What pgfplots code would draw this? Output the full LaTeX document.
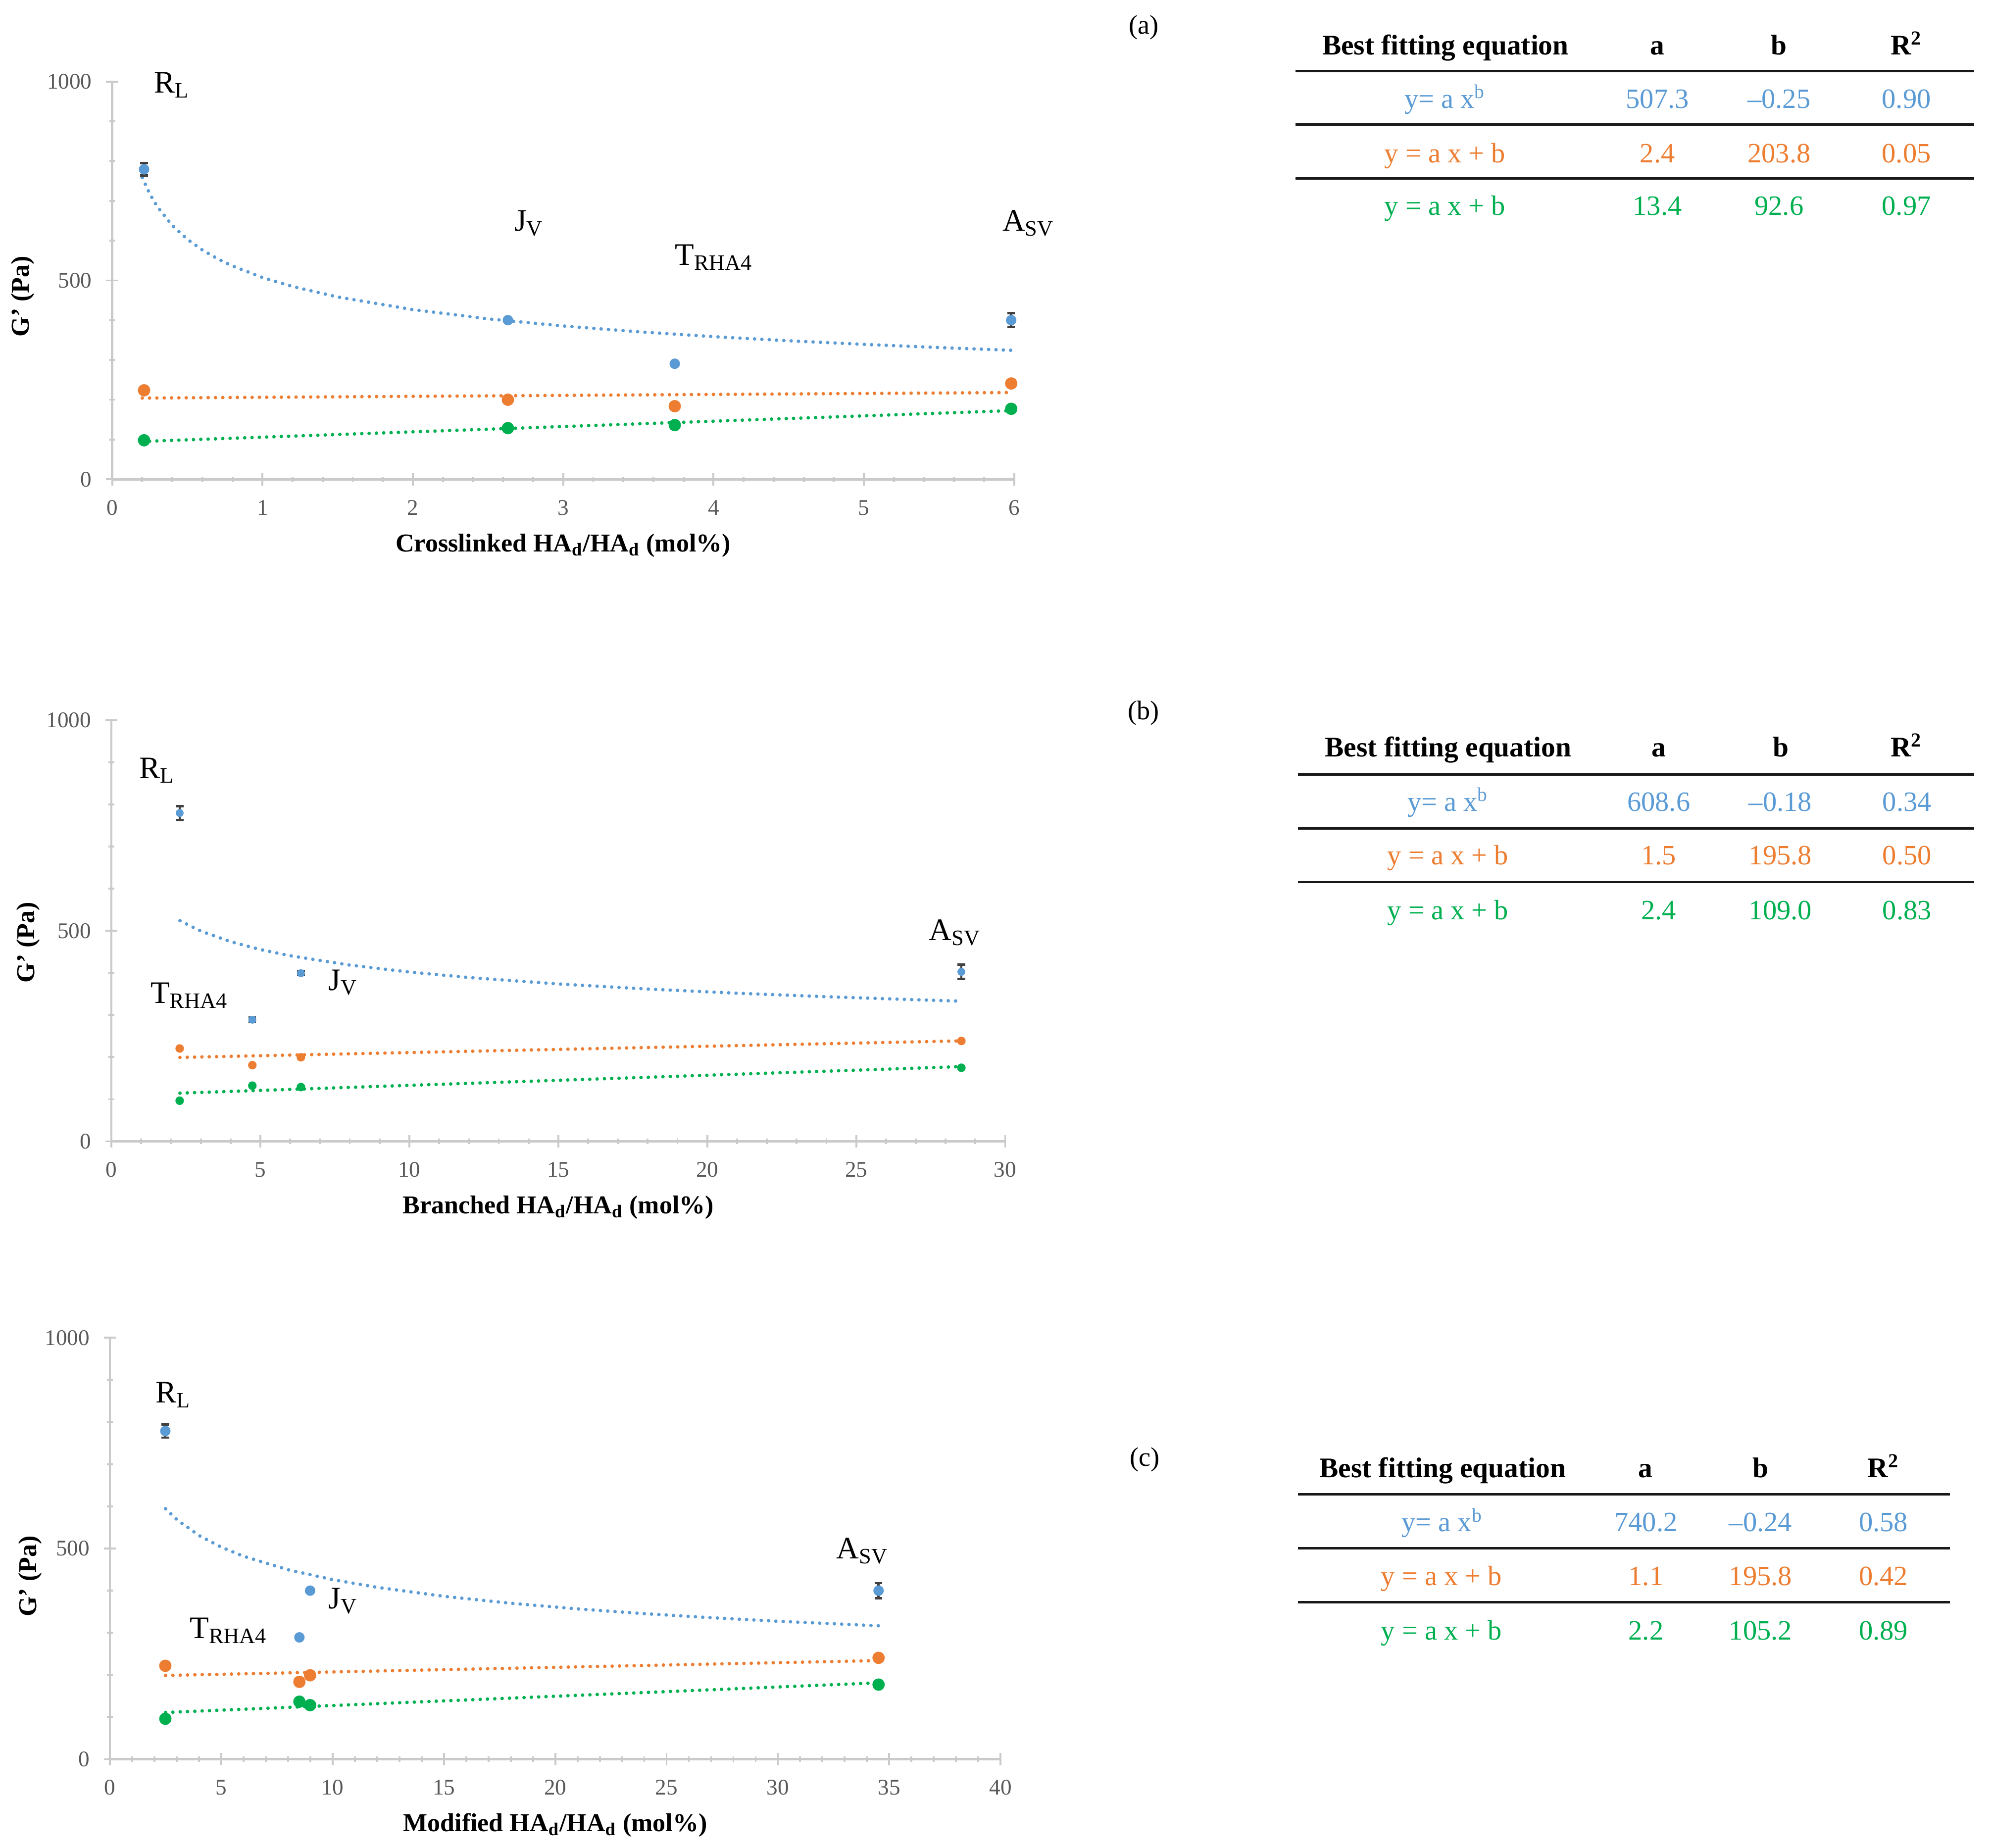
\documentclass[border=0pt]{standalone}
\usepackage{fontspec}
\setmainfont{Liberation Serif}
\usepackage{pgfplots}
\pgfplotsset{compat=1.18}
\definecolor{cblue}{HTML}{5B9BD5}
\definecolor{corange}{HTML}{ED7D31}
\definecolor{cgreen}{HTML}{00B050}
\definecolor{tickgray}{HTML}{595959}
\definecolor{axgray}{HTML}{CACACA}
\pgfplotsset{
  gstyle/.style={
    scale only axis, anchor=south west, clip=false,
    axis lines=left,
    axis line style={-, draw=axgray, line width=0.35mm},
    ymin=0, ymax=1000, ytick={0,500,1000}, minor y tick num=4,
    tick align=center, major tick length=1.9mm, minor tick length=0.9mm,
    tick style={draw=axgray, line width=0.3mm},
    /pgf/number format/assume math mode=true,
    /pgf/number format/1000 sep={},
    ticklabel style={font=\fontsize{10pt}{12pt}\selectfont, text=tickgray},
    xticklabel style={yshift=-1.1mm},
    yticklabel style={xshift=-1mm},
    label style={font=\bfseries\fontsize{11.5pt}{14pt}\selectfont},
    xlabel style={at={(axis description cs:0.5,0)}, anchor=base, yshift=-11.35mm},
    ylabel={G' (Pa)},
  },
  tr/.style={no marks, line width=0.55mm, line cap=round, dash pattern=on 0pt off 1.15mm},
  bm/.style={only marks, mark=*, mark size=#1, color=cblue,
    error bars/.cd, y dir=both, y explicit,
    error bar style={line width=0.35mm, color=black!75},
    error mark options={rotate=90, mark size=0.6mm, line width=0.35mm, color=black!75}},
  om/.style={only marks, mark=*, mark size=#1, color=corange},
  gm/.style={only marks, mark=*, mark size=#1, color=cgreen},
}
\begin{document}
\begin{tikzpicture}
\useasboundingbox (0,0) rectangle (313mm,-290.2mm);
% ---------------- (a)
\begin{axis}[gstyle, at={(17.62mm,-75.28mm)}, width=141.66mm, height=62.48mm,
  xmin=0, xmax=6, xtick={0,...,6}, minor x tick num=4,
  xlabel={Crosslinked HA\textsubscript{d}/HA\textsubscript{d} (mol\%)},
  ylabel style={at={(axis description cs:-0.0991,0.4597)}, anchor=center}]
\addplot[tr, cblue] coordinates {(0.2,758.6) (0.25,717.4) (0.3,685.5) (0.4,637.9) (0.5,603.3) (0.6,576.4) (0.7,554.6) (0.8,536.4) (1,507.3) (1.2,484.7) (1.5,458.4) (2,426.6) (2.5,403.4) (3,385.5) (3.5,370.9) (4,358.7) (4.5,348.3) (5,339.3) (5.5,331.3) (5.98,324.4)};
\addplot[tr, corange] coordinates {(0.2,204.3) (5.98,218.2)};
\addplot[tr, cgreen] coordinates {(0.2,95.3) (5.98,172.7)};
\addplot[om=0.9mm] coordinates {(0.212,223.8) (2.632,200.1) (3.742,183.9) (5.98,241.0)};
\addplot[gm=0.9mm] coordinates {(0.212,98.2) (2.632,128.7) (3.742,136.3) (5.98,177.3)};
\addplot[bm=0.75mm] coordinates {(0.212,779.2) +- (0,15.4) (2.632,400.1) +- (0,5) (3.742,290.6) +- (0,5) (5.98,400.1) +- (0,17.6)};
\end{axis}
% ---------------- (b)
\begin{axis}[gstyle, at={(17.5mm,-179.24mm)}, width=140.36mm, height=66.12mm,
  xmin=0, xmax=30, xtick={0,5,...,30}, minor x tick num=4,
  xlabel={Branched HA\textsubscript{d}/HA\textsubscript{d} (mol\%)},
  ylabel style={at={(axis description cs:-0.0933,0.4725)}, anchor=center}]
\addplot[tr, cblue] coordinates {(2.3,523.9) (3,499.4) (4,474.2) (5,455.5) (6,440.8) (8,418.6) (10,402.1) (12,389.1) (15,373.8) (18,361.7) (21,351.8) (24,343.5) (27,336.3) (28.5,333.0)};
\addplot[tr, corange] coordinates {(2.3,199.3) (28.5,238.6)};
\addplot[tr, cgreen] coordinates {(2.3,114.5) (28.5,177.4)};
\addplot[om=0.6mm] coordinates {(2.29,220.5) (4.73,180.9) (6.36,199.6) (28.53,238.4)};
\addplot[gm=0.6mm] coordinates {(2.29,96.5) (4.73,132.2) (6.36,128.9) (28.53,174.8)};
\addplot[bm=0.55mm] coordinates {(2.29,779.8) +- (0,16.5) (4.73,288.9) +- (0,5) (6.36,399.3) +- (0,5) (28.53,402.6) +- (0,17.2)};
\end{axis}
% ---------------- (c)
\begin{axis}[gstyle, at={(17.26mm,-276.26mm)}, width=139.88mm, height=66.18mm,
  xmin=0, xmax=40, xtick={0,5,...,40}, minor x tick num=4,
  xlabel={Modified HA\textsubscript{d}/HA\textsubscript{d} (mol\%)},
  ylabel style={at={(axis description cs:-0.0894,0.434)}, anchor=center}]
\addplot[tr, cblue] coordinates {(2.5,594.1) (3,568.6) (4,530.7) (5,503.0) (6,481.5) (8,449.4) (10,425.9) (12,407.7) (15,386.4) (18,369.9) (21,356.5) (24,345.2) (27,335.6) (30,327.2) (34.6,316.2)};
\addplot[tr, corange] coordinates {(2.5,198.6) (34.6,233.9)};
\addplot[tr, cgreen] coordinates {(2.5,110.7) (34.6,181.3)};
\addplot[om=0.9mm] coordinates {(2.49,221.5) (8.51,183.4) (8.99,198.9) (34.52,240.3)};
\addplot[gm=0.9mm] coordinates {(2.49,95.8) (8.51,136.3) (8.99,128.1) (34.52,176.8)};
\addplot[bm=0.75mm] coordinates {(2.49,778.5) +- (0,15.4) (8.51,288.9) +- (0,5) (8.99,399.8) +- (0,5) (34.52,399.8) +- (0,17.8)};
\end{axis}
% ---------------- text and tables
\begin{scope}[x=0.2mm, y=-0.2mm,
  lbl/.style={font=\fontsize{14pt}{16pt}\selectfont, inner sep=0, anchor=base west},
  pl/.style={font=\fontsize{12pt}{14pt}\selectfont, inner sep=0, anchor=center},
  hdr/.style={font=\bfseries\fontsize{12.7pt}{15pt}\selectfont, inner sep=0, anchor=base},
  cell/.style={font=\fontsize{12.5pt}{15pt}\selectfont, inner sep=0, anchor=base},
  rule/.style={line width=0.38mm, draw=black!90}]
% labels (a)
\node[lbl] at (120.8,72.9) {R\textsubscript{L}};
\node[lbl] at (403.6,181.5) {J\textsubscript{V}};
\node[lbl] at (529.8,208.3) {T\textsubscript{RHA4}};
\node[lbl] at (786.9,181.5) {A\textsubscript{SV}};
% labels (b)
\node[lbl] at (108.9,611.1) {R\textsubscript{L}};
\node[lbl] at (117.9,787.9) {T\textsubscript{RHA4}};
\node[lbl] at (257.7,777.5) {J\textsubscript{V}};
\node[lbl] at (729.2,738.5) {A\textsubscript{SV}};
% labels (c)
\node[lbl] at (122,1101.4) {R\textsubscript{L}};
\node[lbl] at (257.7,1263.2) {J\textsubscript{V}};
\node[lbl] at (148.8,1286.5) {T\textsubscript{RHA4}};
\node[lbl] at (656.5,1224.0) {A\textsubscript{SV}};
% panel letters
\node[pl] at (898.2,21.6) {(a)};
\node[pl] at (898,560) {(b)};
\node[pl] at (898.8,1146.2) {(c)};
% table (a)
\node[hdr] at (1135,42.8) {Best fitting equation};
\node[hdr] at (1301.5,42.8) {a};
\node[hdr] at (1397,42.8) {b};
\node[hdr] at (1497,42.8) {R\textsuperscript{2}};
\draw[rule] (1017.4,55.7) -- (1550.2,55.7);
\draw[rule] (1017.4,97.8) -- (1550.2,97.8);
\draw[rule] (1017.4,140.2) -- (1550.2,140.2);
\node[cell, text=cblue] at (1134.7,84.9) {y= a x\textsuperscript{b}};
\node[cell, text=cblue] at (1301.5,84.9) {507.3};
\node[cell, text=cblue] at (1397,84.9) {\textendash0.25};
\node[cell, text=cblue] at (1497,84.9) {0.90};
\node[cell, text=corange] at (1134.7,127.7) {y = a x + b};
\node[cell, text=corange] at (1301.5,127.7) {2.4};
\node[cell, text=corange] at (1397,127.7) {203.8};
\node[cell, text=corange] at (1497,127.7) {0.05};
\node[cell, text=cgreen] at (1134.7,169.1) {y = a x + b};
\node[cell, text=cgreen] at (1301.5,169.1) {13.4};
\node[cell, text=cgreen] at (1397,169.1) {92.6};
\node[cell, text=cgreen] at (1497,169.1) {0.97};
% table (b)
\node[hdr] at (1137.2,594.2) {Best fitting equation};
\node[hdr] at (1302.5,594.2) {a};
\node[hdr] at (1398.5,594.2) {b};
\node[hdr] at (1497,594.2) {R\textsuperscript{2}};
\draw[rule] (1019.3,608.1) -- (1550.2,608.1);
\draw[rule] (1019.3,650.6) -- (1550.2,650.6);
\draw[rule] (1019.3,692.7) -- (1550.2,692.7);
\node[cell, text=cblue] at (1137,637.0) {y= a x\textsuperscript{b}};
\node[cell, text=cblue] at (1302.5,637.0) {608.6};
\node[cell, text=cblue] at (1398,637.0) {\textendash0.18};
\node[cell, text=cblue] at (1497.5,637.0) {0.34};
\node[cell, text=corange] at (1137,679.1) {y = a x + b};
\node[cell, text=corange] at (1302.5,679.1) {1.5};
\node[cell, text=corange] at (1398,679.1) {195.8};
\node[cell, text=corange] at (1497.5,679.1) {0.50};
\node[cell, text=cgreen] at (1137,721.9) {y = a x + b};
\node[cell, text=cgreen] at (1302.5,721.9) {2.4};
\node[cell, text=cgreen] at (1398,721.9) {109.0};
\node[cell, text=cgreen] at (1497.5,721.9) {0.83};
% table (c)
\node[hdr] at (1132.8,1160.0) {Best fitting equation};
\node[hdr] at (1292,1160.0) {a};
\node[hdr] at (1382.5,1160.0) {b};
\node[hdr] at (1479,1160.0) {R\textsuperscript{2}};
\draw[rule] (1019.3,1173.5) -- (1531.3,1173.5);
\draw[rule] (1019.3,1215.9) -- (1531.3,1215.9);
\draw[rule] (1019.3,1258.2) -- (1531.3,1258.2);
\node[cell, text=cblue] at (1132.5,1202.7) {y= a x\textsuperscript{b}};
\node[cell, text=cblue] at (1292.5,1202.7) {740.2};
\node[cell, text=cblue] at (1382.5,1202.7) {\textendash0.24};
\node[cell, text=cblue] at (1479,1202.7) {0.58};
\node[cell, text=corange] at (1132,1244.8) {y = a x + b};
\node[cell, text=corange] at (1292.5,1244.8) {1.1};
\node[cell, text=corange] at (1382.5,1244.8) {195.8};
\node[cell, text=corange] at (1479,1244.8) {0.42};
\node[cell, text=cgreen] at (1132,1287.6) {y = a x + b};
\node[cell, text=cgreen] at (1292.5,1287.6) {2.2};
\node[cell, text=cgreen] at (1382.5,1287.6) {105.2};
\node[cell, text=cgreen] at (1479,1287.6) {0.89};
\end{scope}
\end{tikzpicture}
\end{document}
